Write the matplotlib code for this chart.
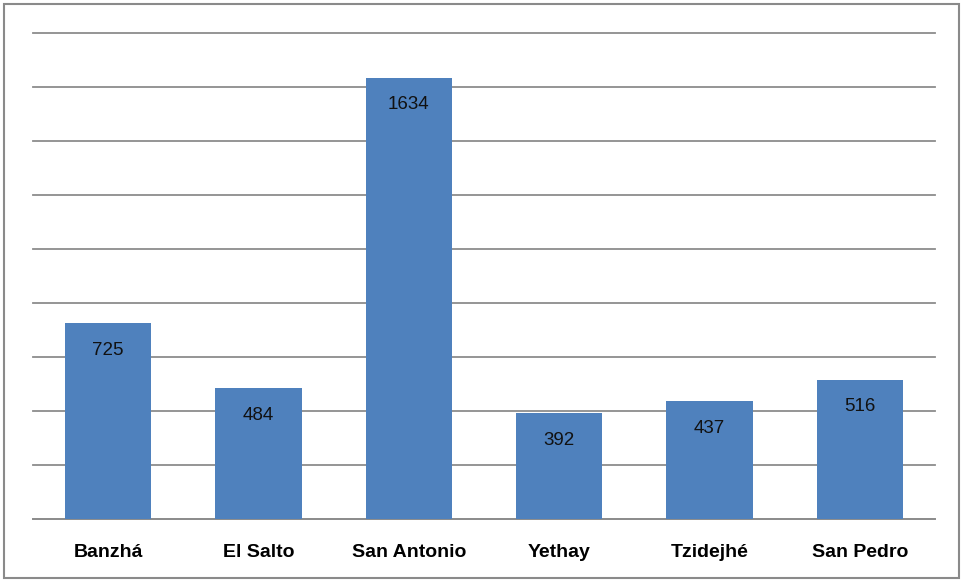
import matplotlib.pyplot as plt
from matplotlib.patches import Rectangle

plt.rcParams['font.family'] = ['Liberation Sans', 'DejaVu Sans']

localidades = ['Banzhá', 'El Salto', 'San Antonio', 'Yethay', 'Tzidejhé', 'San Pedro']
habitantes = [725, 484, 1634, 392, 437, 516]

fig = plt.figure(figsize=(9.63, 5.82), dpi=100)
ax = fig.add_axes([33 / 963, 63 / 582, 902 / 963, 486 / 582])

x = range(len(localidades))
bars = ax.bar(x, habitantes, width=0.575, color='#4F81BD', zorder=3)

for b, v in zip(bars, habitantes):
    ax.annotate(str(v), (b.get_x() + b.get_width() / 2, v), xytext=(0, -19.5),
                textcoords='offset points', ha='center', va='center',
                fontsize=13.5, color='#111111', zorder=4)

ax.set_xlim(-0.5, len(localidades) - 0.5)
ax.set_ylim(0, 1800)
ax.set_yticks(range(0, 1801, 200))
ax.yaxis.grid(True, color='#8c8c8c', linewidth=1.3, zorder=0)
for gl in ax.get_ygridlines():
    gl.set_clip_on(False)
ax.set_yticklabels([])
ax.tick_params(axis='y', length=0)
ax.tick_params(axis='x', length=0, pad=18)
ax.set_xticks(list(x))
ax.set_xticklabels(localidades, fontsize=14, fontweight='bold')

for s in ['top', 'right', 'left']:
    ax.spines[s].set_visible(False)
ax.spines['bottom'].set_color('#8c8c8c')
ax.spines['bottom'].set_linewidth(1.3)

fig.patches.append(Rectangle((3.5 / 963, 4 / 582), 955 / 963, 574 / 582,
                             transform=fig.transFigure, fill=False,
                             edgecolor='#8a8a8a', linewidth=1.5))

fig.savefig('out.png', dpi=100)
